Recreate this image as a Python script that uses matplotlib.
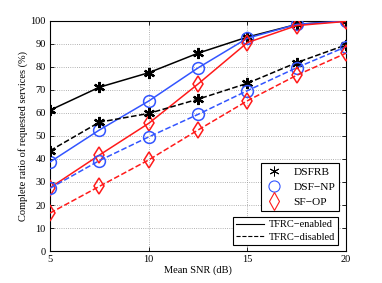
import matplotlib
matplotlib.use("Agg")
import matplotlib.pyplot as plt
from matplotlib.lines import Line2D

snr = [5, 7.5, 10, 12.5, 15, 17.5, 20]
dsfrb_en = [61.2, 71.2, 77.5, 86.0, 93.0, 98.5, 100.0]
dsfnp_en = [38.7, 52.6, 65.2, 79.6, 92.5, 98.5, 100.0]
sfop_en = [27.5, 41.7, 55.5, 72.6, 90.6, 98.0, 99.8]
dsfrb_dis = [43.6, 56.0, 59.8, 66.0, 72.9, 81.9, 89.6]
dsfnp_dis = [27.3, 39.3, 49.6, 59.4, 69.7, 79.7, 88.8]
sfop_dis = [16.5, 28.1, 39.6, 52.6, 65.3, 76.4, 86.0]

xticks = [5, 10, 15, 20]
yticks = [0, 10, 20, 30, 40, 50, 60, 70, 80, 90, 100]

plt.rcParams['font.family'] = ['Liberation Serif', 'DejaVu Serif']
plt.rcParams['font.size'] = 7.5

fig = plt.figure(figsize=(3.82, 2.83), dpi=100)
ax = fig.add_axes([0.131, 0.113, 0.775, 0.813])

blue = '#3355ff'
red = '#ff1a1a'
ast = (6, 2, 0)

series = [
    (dsfrb_en, 'k', ast, '-'), (dsfnp_en, blue, 'o', '-'), (sfop_en, red, 'd', '-'),
    (dsfrb_dis, 'k', ast, '--'), (dsfnp_dis, blue, 'o', '--'), (sfop_dis, red, 'd', '--'),
]
for ys, c, m, ls in series:
    if m == ast:
        ax.plot(snr, ys, color=c, ls=ls, lw=1.1, marker=m, ms=8, mew=1.6, zorder=3)
    else:
        ax.plot(snr, ys, color=c, ls=ls, lw=1.1, marker=m, ms=8.5 if m == 'o' else 8.2,
                mfc='none', mec=c, mew=1.1, zorder=3)

ax.set_xlim(5, 20)
ax.set_ylim(0, 100)
ax.set_xticks(xticks)
ax.set_yticks(yticks)
ax.grid(True, ls=':', color='#999999', lw=0.6)
ax.tick_params(direction='in', top=True, right=True, length=3, width=0.6, pad=3)
for s in ax.spines.values():
    s.set_linewidth(0.8)
ax.set_xlabel('Mean SNR (dB)', labelpad=1)
ax.set_ylabel('Complete ratio of requested services (%)', labelpad=2)

h1 = [Line2D([], [], ls='none', marker=ast, color='k', ms=7, mew=0.7),
      Line2D([], [], ls='none', marker='o', mfc='none', mec=blue, ms=8, mew=0.8),
      Line2D([], [], ls='none', marker='d', mfc='none', mec=red, ms=9, mew=0.8)]
leg1 = ax.legend(h1, ['DSFRB', 'DSF\u2212NP', 'SF\u2212OP'], loc='upper right',
                 bbox_to_anchor=(0.977, 0.383), fancybox=False, edgecolor='k',
                 framealpha=1, handlelength=1.6, borderpad=0.35, labelspacing=0.45,
                 handletextpad=0.9, borderaxespad=0, fontsize=8.2)
leg1.get_frame().set_linewidth(0.8)
ax.add_artist(leg1)

h2 = [Line2D([], [], ls='-', color='k', lw=0.8),
      Line2D([], [], ls='--', color='k', lw=0.8)]
leg2 = ax.legend(h2, ['TFRC\u2212enabled', 'TFRC\u2212disabled'], loc='lower right',
                 bbox_to_anchor=(0.973, 0.026), fancybox=False, edgecolor='k',
                 framealpha=1, handlelength=2.7, borderpad=0.3, labelspacing=0.3,
                 handletextpad=0.4, borderaxespad=0)
leg2.get_frame().set_linewidth(0.8)

fig.savefig('out.png', dpi=100)
